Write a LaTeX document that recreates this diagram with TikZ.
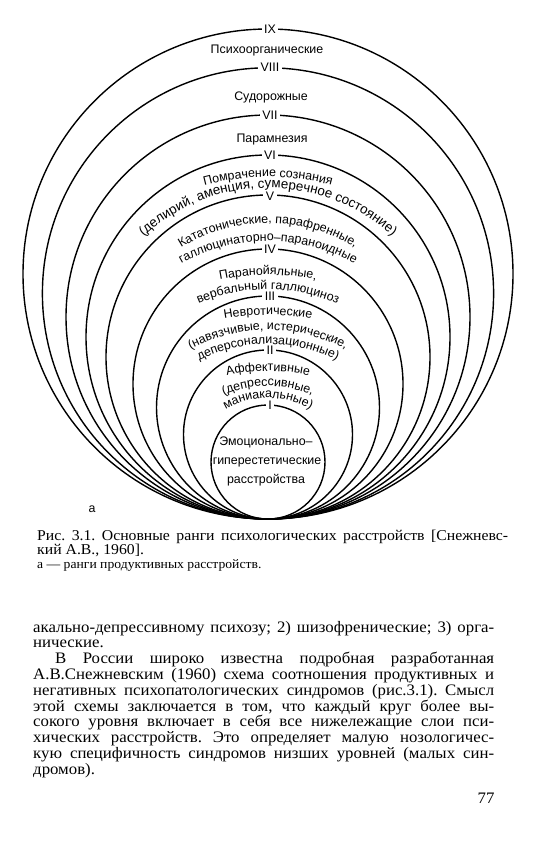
\documentclass[tikz,border=0pt]{standalone}
\usepackage{fontspec}
\setmainfont[FakeStretch=1.05]{Liberation Serif}
\newfontfamily\diagfont{Liberation Sans}
\usetikzlibrary{decorations.text}
\frenchspacing
\newcommand\dg{\diagfont\fontsize{12.4pt}{14pt}\selectfont}
\newcommand\dgbig{\diagfont\fontsize{13.4pt}{15pt}\selectfont}
\newcommand\bodyf{\fontsize{16pt}{16pt}\selectfont}
\newcommand\capf{\fontsize{15pt}{15pt}\selectfont}
\newcommand\capsmall{\fontsize{13pt}{13pt}\selectfont}
\tikzset{
  circ/.style={line width=1.4pt},
  num/.style={fill=white, inner xsep=2.6pt, inner ysep=0pt, font=\dg},
  flat/.style={font=\dg, inner sep=0pt},
  bline/.style={anchor=base west, inner sep=0pt, font=\bodyf},
  cline/.style={anchor=base west, inner sep=0pt, font=\capf},
}
% [font macro] baseline y at top, radius, text
\newcommand\arcline[4][\dg]{\path[decorate, decoration={text along path, text align=center, text={|#1|#4}}] (268,#2+#3) ++(190:#3) arc[start angle=190,end angle=350,radius=#3];}
\begin{document}
\begin{tikzpicture}[x=1pt,y=-1pt]
\useasboundingbox (0,0) rectangle (550,845);
\fill[white] (0,0) rectangle (550,845);
% circles, all tangent at the bottom point (268,519)
\foreach \r in {245,225.6,202,182,162,135,111.5,84.5,57}{
  \draw[circ] (268,519-\r) circle[radius=\r];
}
% numerals
\node[num] (nIX)   at (270,29)    {IX};
\node[num] (nVIII) at (270,67.7)  {VIII};
\node[num] (nVII)  at (270,115)   {VII};
\node[num] (nVI)   at (270,155)   {VI};
\node[num] (nV)    at (270,196)   {V};
\node[num] (nIV)   at (270,249)   {IV};
\node[num] (nIII)  at (270,296.5) {III};
\node[num] (nII)   at (270,350.5) {II};
\node[num] (nI)    at (270,405)   {I};
% straight labels
\node[flat] (t9) at (267,51)  {Психоорганические};
\node[flat] (t8) at (271,97)  {Судорожные};
\node[flat] (t7) at (272,140) {Парамнезия};
% curved labels
\arcline{177}{250}{Помрачение сознания}
\arcline[\dgbig]{188}{185}{(делирий, аменция, сумеречное состояние)}
\arcline{223}{165}{Кататонические, парафренные,}
\arcline{241}{175}{галлюцинаторно–параноидные}
\arcline{275}{250}{Паранойяльные,}
\arcline{289.5}{175}{вербальный галлюциноз}
\arcline{315}{250}{Невротические}
\arcline{330}{165}{(навязчивые, истерические,}
\arcline{344}{150}{деперсонализационные)}
\arcline{371}{180}{Аффективные}
\arcline{386}{110}{(депрессивные,}
\arcline{398}{85}{маниакальные)}
% inner circle
\node[flat] (c1) at (266,442) {Эмоционально–};
\node[flat] (c2) at (267,462) {гиперестетические};
\node[flat] (c3) at (266,480) {расстройства};
\node[flat] (lbla) at (92,509) {а};
% caption
\node[cline] (cap1) at (37,540) {\makebox[471pt][s]{Рис. 3.1. Основные ранги психологических расстройств [Снежневс-}};
\node[cline] (cap2) at (37,554) {кий А.В., 1960].};
\node[cline, font=\capsmall] (cap3) at (37,568) {а — ранги продуктивных расстройств.};
% body text
\node[bline] (b1) at (33,632) {\makebox[461pt][s]{акально-депрессивному психозу; 2) шизофренические; 3) орга-}};
\node[bline] (b2) at (33,647.8) {нические.};
\node[bline] (b3) at (55,663.6) {\makebox[439pt][s]{В России широко известна подробная разработанная}};
\node[bline] (b4) at (33,679.4) {\makebox[461pt][s]{А.В.Снежневским (1960) схема соотношения продуктивных и}};
\node[bline] (b5) at (33,695.2) {\makebox[461pt][s]{негативных психопатологических синдромов (рис.3.1). Смысл}};
\node[bline] (b6) at (33,711) {\makebox[461pt][s]{этой схемы заключается в том, что каждый круг более вы-}};
\node[bline] (b7) at (33,726.8) {\makebox[461pt][s]{сокого уровня включает в себя все нижележащие слои пси-}};
\node[bline] (b8) at (33,742.6) {\makebox[461pt][s]{хических расстройств. Это определяет малую нозологичес-}};
\node[bline] (b9) at (33,758.4) {\makebox[461pt][s]{кую специфичность синдромов низших уровней (малых син-}};
\node[bline] (b10) at (33,774.2) {дромов).};
\node[bline, anchor=base] (pg) at (486,803) {77};
\end{tikzpicture}
\end{document}
